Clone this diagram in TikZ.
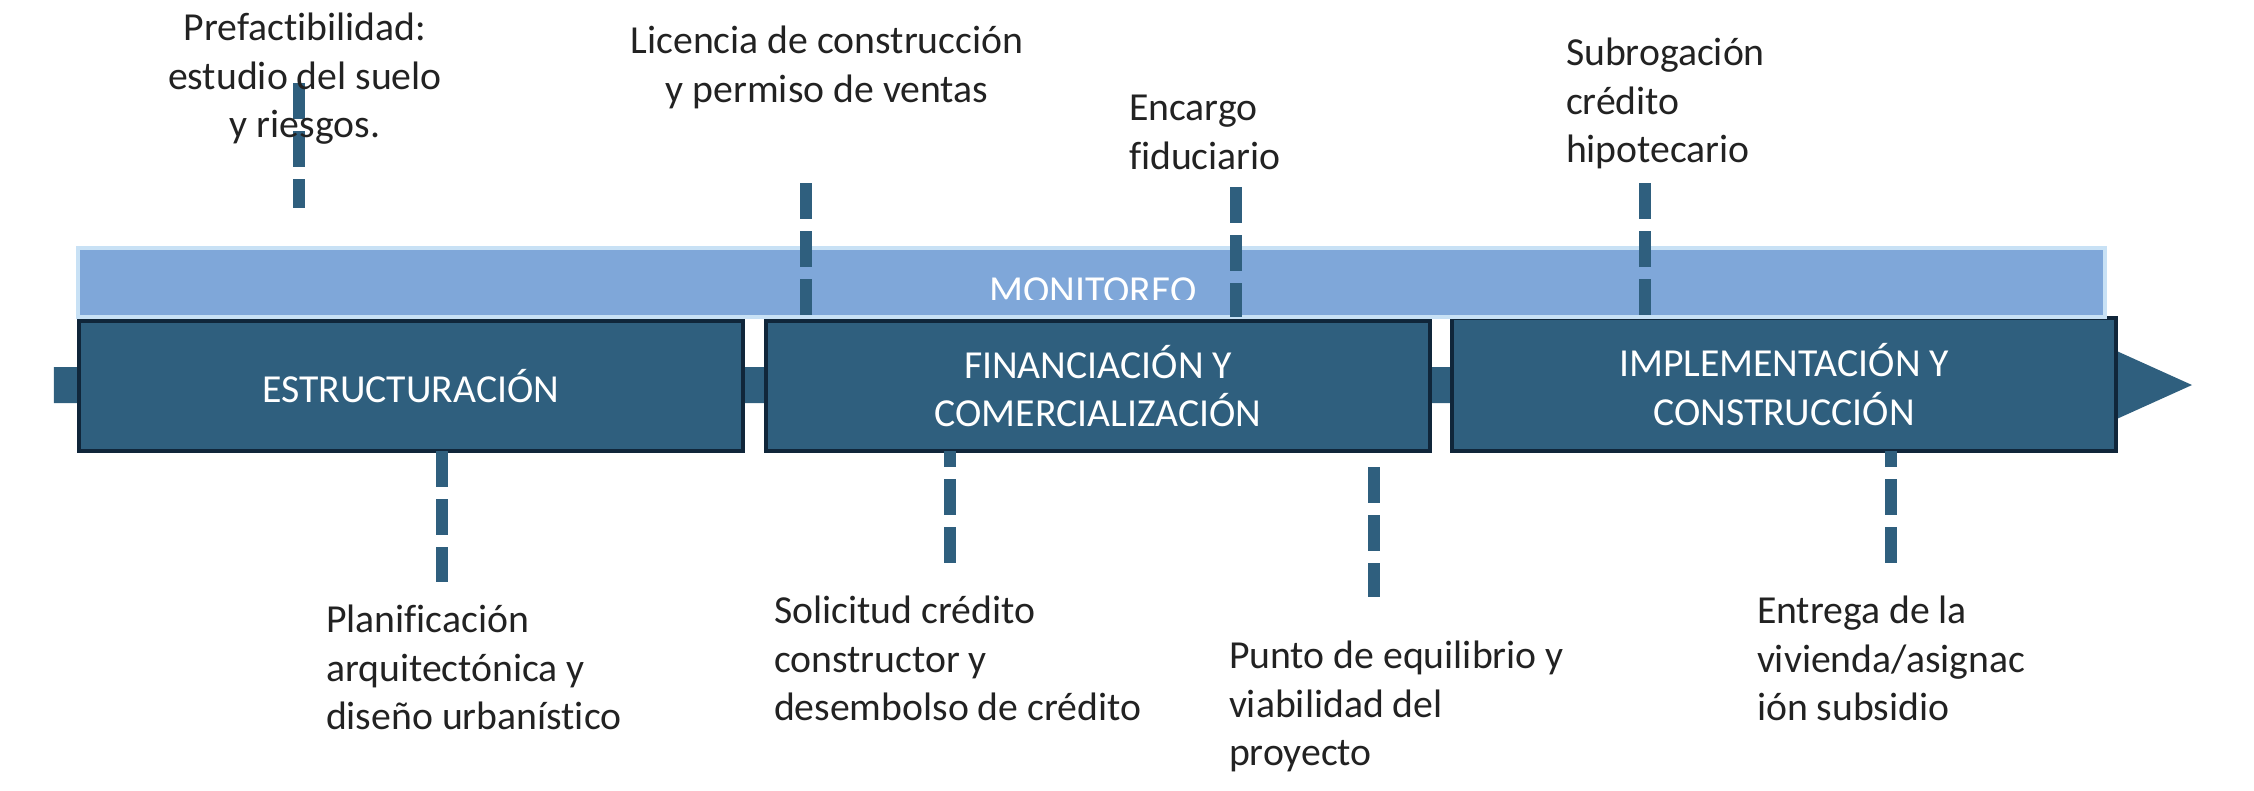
\documentclass[tikz,border=0pt]{standalone}
\usepackage{fontspec}
\setmainfont{Carlito}[Ligatures={TeX,NoCommon}]
\usepackage{xcolor}
\usepackage{tikz}
\usetikzlibrary{calc}
\definecolor{phaseblue}{HTML}{2F5F7E}
\definecolor{phaseedge}{HTML}{10263A}
\definecolor{monitorblue}{HTML}{7FA7D9}
\definecolor{monitoredge}{HTML}{C8E1F5}
\definecolor{notegray}{HTML}{222222}

\begin{document}
\begin{tikzpicture}[
    font=\fontsize{11.3}{13.9}\selectfont,
    phase/.style={fill=phaseblue, draw=phaseedge, line width=0.04cm, inner sep=0pt, outer sep=0pt, text=white, align=center, minimum width=6.64cm},
    milestone/.style={draw=phaseblue, line width=0.12cm, dash pattern=on 0.36cm off 0.12cm},
    note/.style={text=notegray, inner sep=0pt, outer sep=0pt}
]
    \useasboundingbox (0,0) rectangle (22.54,-7.90);

    \fill[phaseblue] (0.54,-3.67) -- (21.1,-3.67) -- (21.1,-3.48) -- (21.92,-3.85)
        -- (21.1,-4.22) -- (21.1,-4.03) -- (0.54,-4.03) -- cycle;

    \node[phase, minimum height=1.30cm] (estr) at (4.1075,-3.86) {ESTRUCTURACIÓN};
    \node[phase, minimum height=1.30cm] (fin) at (10.98,-3.86) {FINANCIACIÓN Y\\COMERCIALIZACIÓN};
    \node[phase, minimum height=1.33cm] (impl) at (17.84,-3.845) {IMPLEMENTACIÓN Y\\CONSTRUCCIÓN};

    \node[fill=monitorblue, draw=monitoredge, line width=0.04cm, outer sep=0pt,
        minimum width=20.27cm, minimum height=0.69cm] (mon) at (10.915,-2.825) {};
    \begin{scope}
        \clip (0.8,-2.5) rectangle (21,-2.99);
        \node[anchor=base, text=white, inner sep=0pt] (montext) at (10.93,-3.035) {MONITOREO};
    \end{scope}

    \coordinate (t1a) at (2.99,-0.83);
    \coordinate (t1b) at (2.99,-2.08);
    \coordinate (t2) at (8.06,-1.83);
    \coordinate (t3) at (12.36,-1.87);
    \coordinate (t4) at (16.45,-1.83);
    \draw[milestone] (t1a) -- (t1b);
    \draw[milestone] (t2) -- (t2 |- mon.south);
    \draw[milestone] (t3) -- (t3 |- mon.south);
    \draw[milestone] (t4) -- (t4 |- mon.south);

    \coordinate (b1) at (4.42,-5.82);
    \coordinate (b2) at (9.50,-5.63);
    \coordinate (b3a) at (13.74,-4.67);
    \coordinate (b3b) at (13.74,-5.97);
    \coordinate (b4) at (18.91,-5.63);
    \draw[milestone] (estr.south -| b1) -- (b1);
    \draw[milestone, dash phase=0.20cm] (fin.south -| b2) -- (b2);
    \draw[milestone] (b3a) -- (b3b);
    \draw[milestone, dash phase=0.20cm] (impl.south -| b4) -- (b4);

    \node[note, anchor=north, align=center] (prefact) at (3.05,-0.06) {\strut Prefactibilidad:\\estudio del suelo\\y riesgos.};
    \node[note, anchor=north, align=center] (licencia) at (8.27,-0.19) {\strut Licencia de construcción\\y permiso de ventas};
    \node[note, anchor=north west, align=left] (encargo) at (11.29,-0.86) {\strut Encargo\\fiduciario};
    \node[note, anchor=north west, align=left] (subrog) at (15.66,-0.31) {\strut Subrogación\\crédito\\hipotecario};

    \node[note, anchor=north west, align=left] (planif) at (3.26,-5.98) {\strut Planificación\\arquitectónica y\\diseño urbanístico};
    \node[note, anchor=north west, align=left] (solicitud) at (7.74,-5.89) {\strut Solicitud crédito\\constructor y\\desembolso de crédito};
    \node[note, anchor=north west, align=left] (punto) at (12.29,-6.34) {\strut Punto de equilibrio y\\viabilidad del\\proyecto};
    \node[note, anchor=north west, align=left] (entrega) at (17.57,-5.89) {\strut Entrega de la\\vivienda/asignac\\ión subsidio};
\end{tikzpicture}
\end{document}
